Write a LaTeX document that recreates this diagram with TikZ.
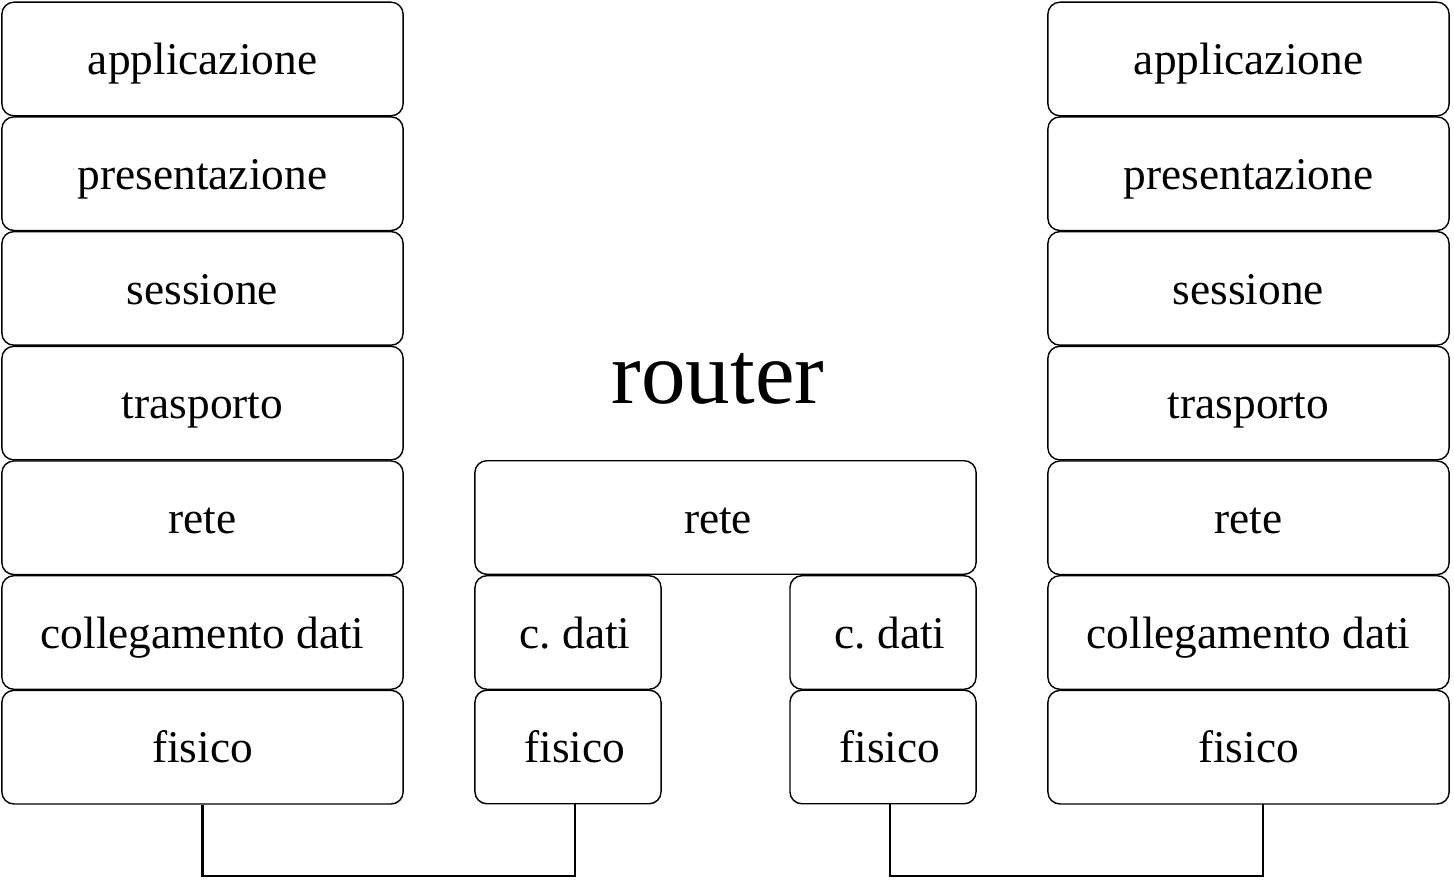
\documentclass[tikz,border=0pt]{standalone}
\usepackage{fontspec}
\setmainfont{Liberation Serif}
\frenchspacing
\begin{document}
\begin{tikzpicture}[x=0.01cm,y=-0.01cm,
  layer/.style={draw, rounded corners=3.4pt, line width=0.4pt, inner sep=0pt, minimum height=1.135cm},
  lbl/.style={font=\fontsize{12.9pt}{15pt}\selectfont, inner sep=0pt, anchor=base},
  wire/.style={line width=0.7pt}]
\useasboundingbox (0,0) rectangle (1454,880);
% left and right stacks
\foreach \n/\t [count=\i from 0] in {a/applicazione, p/presentazione, s/sessione, t/trasporto, r/rete, c/collegamento dati, f/fisico}{
  \node[layer, minimum width=4.01cm] (l\n) at (202.5, {59+114.7*\i}) {};
  \node[lbl] (tl\n) at (202.5, {59+114.7*\i+15.8}) {\t};
  \node[layer, minimum width=4.01cm] (r\n) at (1248.5, {59+114.7*\i}) {};
  \node[lbl] (tr\n) at (1248.5, {59+114.7*\i+15.8}) {\t};
}
% router
\node[font=\fontsize{25.3pt}{30pt}\selectfont, inner sep=0pt, anchor=base] (router) at (718,404) {router};
\node[layer, minimum width=5.01cm] (mr) at (725.5, 517.5) {};
\node[layer, minimum width=1.86cm] (mca) at (568, 632.5) {};
\node[layer, minimum width=1.86cm] (mfa) at (568, 747) {};
\node[layer, minimum width=1.86cm] (mcb) at (883, 632.5) {};
\node[layer, minimum width=1.86cm] (mfb) at (883, 747) {};
\node[lbl] (tmr) at (718, 533.3) {rete};
\node[lbl] (tca) at (575, 648.3) {c. dati};
\node[lbl] (tfa) at (575, 762.8) {fisico};
\node[lbl] (tcb) at (890, 648.3) {c. dati};
\node[lbl] (tfb) at (890, 762.8) {fisico};
% wires
\coordinate (ra1) at (1263, 804.4);
\draw[wire] (lf.south) -- (202.5, 876) -| (tfa |- mfa.south);
\draw[wire] (tfb |- mfb.south) -- (890, 876) -| (ra1);
\end{tikzpicture}
\end{document}
